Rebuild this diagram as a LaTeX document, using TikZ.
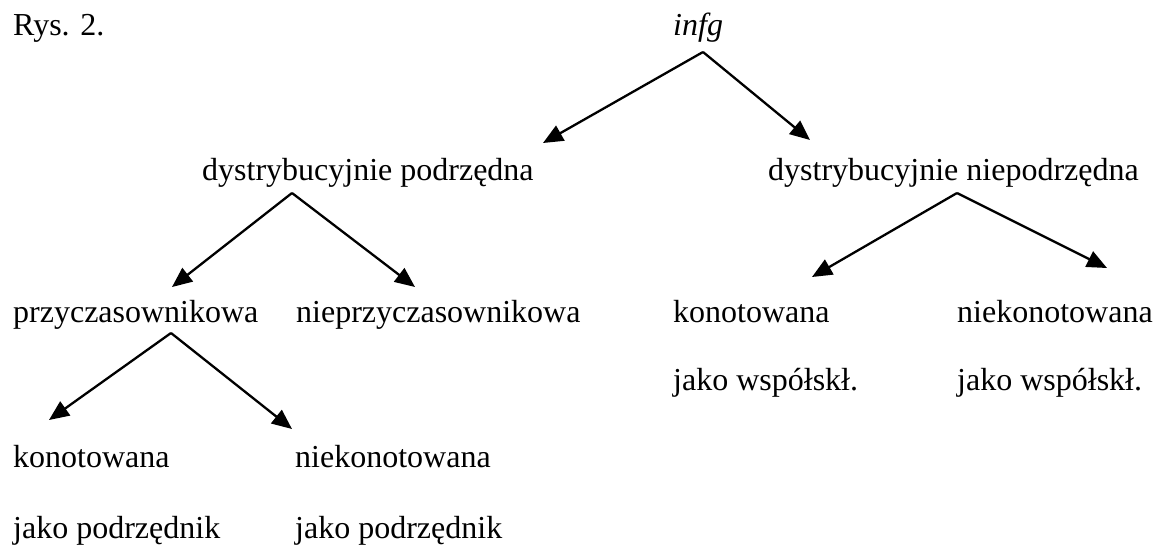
\documentclass[tikz,border=0pt]{standalone}
\usepackage{fontspec}
\setmainfont{Liberation Serif}
\usetikzlibrary{arrows.meta}
\tikzset{
  lbl/.style={anchor=base west, inner sep=0pt, font=\fontsize{32}{38}\selectfont},
  arr/.style={line width=2.3pt, -{Triangle[length=20pt,width=17pt]}}
}
\begin{document}
\begin{tikzpicture}[x=1pt,y=-1pt]
\useasboundingbox (0,0) rectangle (1156,546);
% texts
\node[lbl] (rys) at (13,35) {Rys. 2.};
\node[lbl] (infg) at (673,35) {\itshape infg};
\node[lbl] (dp) at (202,180) {dystrybucyjnie podrzędna};
\node[lbl] (dn) at (768,180) {dystrybucyjnie niepodrzędna};
\node[lbl] (prz) at (13,322) {przyczasownikowa};
\node[lbl] (nprz) at (296,322) {nieprzyczasownikowa};
\node[lbl] (k1) at (13,467) {konotowana};
\node[lbl] (nk1) at (295,467) {niekonotowana};
\node[lbl] (jp1) at (13,538) {jako podrzędnik};
\node[lbl] (jp2) at (295,538) {jako podrzędnik};
\node[lbl] (k2) at (673,322) {konotowana};
\node[lbl] (nk2) at (957,322) {niekonotowana};
\node[lbl] (jw1) at (673,390) {jako współskł.};
\node[lbl] (jw2) at (957,390) {jako współskł.};
% apexes and tips
\coordinate (a0) at (703,52);
\coordinate (a1) at (292,193);
\coordinate (a2) at (957,193);
\coordinate (a3) at (171,333);
\coordinate (t0l) at (543,143);
\coordinate (t0r) at (810,140);
\coordinate (t1l) at (172,287);
\coordinate (t1r) at (415,287);
\coordinate (t2l) at (812,277);
\coordinate (t2r) at (1107,268);
\coordinate (t3l) at (49,420);
\coordinate (t3r) at (292,429);
% arrows
\draw[arr] (a0) -- (t0l);
\draw[arr] (a0) -- (t0r);
\draw[arr] (a1) -- (t1l);
\draw[arr] (a1) -- (t1r);
\draw[arr] (a2) -- (t2l);
\draw[arr] (a2) -- (t2r);
\draw[arr] (a3) -- (t3l);
\draw[arr] (a3) -- (t3r);
\end{tikzpicture}
\end{document}
